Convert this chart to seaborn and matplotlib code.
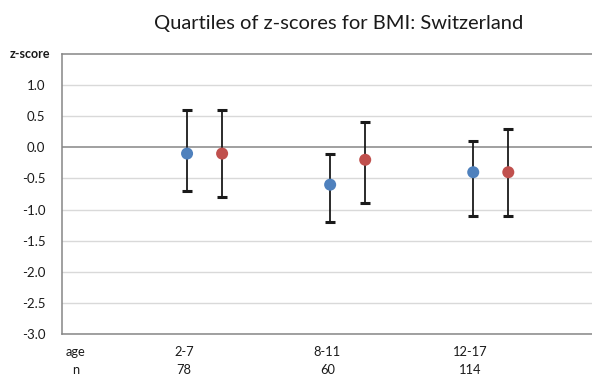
import numpy as np
import pandas as pd
import matplotlib
matplotlib.use("Agg")
import matplotlib.pyplot as plt
import seaborn as sns

# ---- data ----
age_groups = ["2-7", "8-11", "12-17"]
n_values = [78, 60, 114]
blue_median = [-0.1, -0.6, -0.4]
blue_q1 = [-0.7, -1.2, -1.1]
blue_q3 = [0.6, -0.1, 0.1]
red_median = [-0.1, -0.2, -0.4]
red_q1 = [-0.8, -0.9, -1.1]
red_q3 = [0.6, 0.4, 0.3]
y_ticks = [-3.0, -2.5, -2.0, -1.5, -1.0, -0.5, 0.0, 0.5, 1.0]

sns.set_theme(style="white")
plt.rcParams["font.family"] = ["Lato", "DejaVu Sans"]

BLUE = "#4f81bd"
RED = "#c0504d"
GRID = "#d9d9d9"
AXC = "#868686"

fig = plt.figure(figsize=(5.92, 3.87), dpi=100)
ax = fig.add_axes([62 / 592, 1 - 334 / 387, 1 - 62 / 592, (334 - 54) / 387])

pos = np.arange(len(age_groups), dtype=float)
offset = 0.245
df = pd.DataFrame({
    "x": np.concatenate([pos, pos + offset]),
    "median": blue_median + red_median,
    "q1": blue_q1 + red_q1,
    "q3": blue_q3 + red_q3,
    "series": ["blue"] * 3 + ["red"] * 3,
})

for y in y_ticks:
    ax.axhline(y, color=AXC if y == 0 else GRID, lw=1.1 if y == 0 else 1.0, zorder=0)

med = df["median"].to_numpy()
err = np.vstack([med - df["q1"].to_numpy(), df["q3"].to_numpy() - med])
ax.errorbar(df["x"], med, yerr=err, fmt="none", ecolor="#1a1a1a", elinewidth=1.3,
            capsize=3.6, capthick=2.2, zorder=2)
sns.scatterplot(data=df, x="x", y="median", hue="series",
                palette={"blue": BLUE, "red": RED}, s=75, edgecolor="none",
                legend=False, zorder=3, ax=ax)

ax.set_xlim(-0.874, 2.83)
ax.set_ylim(-3.0, 1.5)
ax.set_yticks(y_ticks)
ax.set_yticklabels([f"{v:.1f}" for v in y_ticks], fontsize=9.5, color="#1a1a1a")
ax.tick_params(axis="y", length=0, pad=12)

xt = [-0.78] + list(pos - 0.02)
xl = ["age\nn"] + [f"{a}\n{n}" for a, n in zip(age_groups, n_values)]
ax.set_xticks(xt)
ax.set_xticklabels(xl, fontsize=9.3, color="#1a1a1a", linespacing=1.55)
ax.tick_params(axis="x", length=0, pad=9)
ax.set_xlabel("")
ax.set_ylabel("")

for side in ["left", "bottom", "top"]:
    ax.spines[side].set_color(AXC)
    ax.spines[side].set_linewidth(1.1)
ax.spines["right"].set_visible(False)

ax.text(-0.022, 1.0, "z-score", transform=ax.transAxes, ha="right", va="center",
        fontsize=9, fontweight="bold", color="#1a1a1a")

fig.text(339 / 592, 1 - 23 / 387, "Quartiles of z-scores for BMI: Switzerland",
         ha="center", va="center", fontsize=14.5, color="#1a1a1a")

fig.savefig("out.png", dpi=100)
